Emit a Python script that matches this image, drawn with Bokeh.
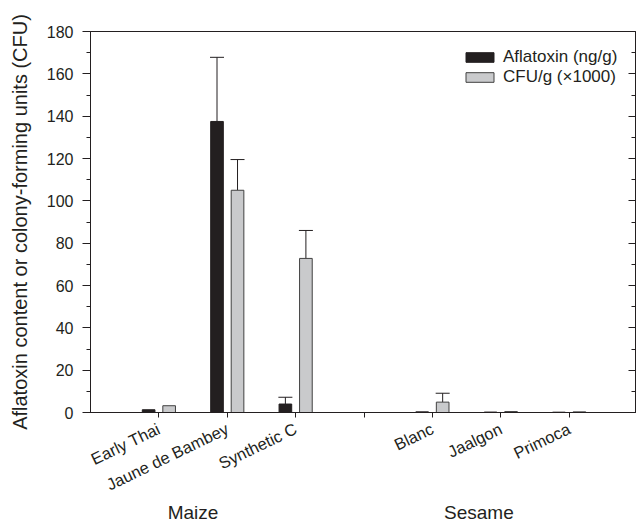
from bokeh.plotting import figure
from bokeh.models import (Range1d, LinearAxis, FixedTicker, SingleIntervalTicker,
                          ColumnDataSource, Whisker, TeeHead, Legend, LegendItem)
from bokeh.transform import dodge
from bokeh.embed import file_html
from bokeh.resources import INLINE

# ---- data ----
categories = ["Early Thai", "Jaune de Bambey", "Synthetic C", "", "Blanc", "Jaalgon", "Primoca"]
aflatoxin = [1.3, 137.5, 4.0, 0.0, 0.3, 0.2, 0.15]
aflatoxin_err = [0.0, 30.3, 3.2, 0.0, 0.0, 0.0, 0.0]
cfu = [3.2, 105.0, 72.8, 0.0, 4.9, 0.45, 0.3]
cfu_err = [0.0, 14.5, 13.2, 0.0, 4.2, 0.0, 0.0]
groups = ["Maize", "Sesame"]
group_pos = [1.5, 5.68]
series_names = ["Aflatoxin (ng/g)", "CFU/g (\u00d71000)"]

FONT = "Liberation Sans"
TXT = "#231f20"
BLACK = "#231f20"
GRAY = "#c9cacc"

xs = list(range(1, len(categories) + 1))
src = ColumnDataSource(dict(x=xs, afl=aflatoxin, cfu=cfu))

p = figure(width=636, height=524, output_backend="svg", toolbar_location=None,
           x_range=Range1d(0, 7.97), y_range=Range1d(0, 180),
           frame_width=545, frame_height=381,
           min_border_left=90, min_border_right=1, min_border_top=31, min_border_bottom=112,
           x_axis_type=None, y_axis_type=None)
p.grid.visible = False
p.background_fill_color = "white"
p.border_fill_color = "white"
p.outline_line_color = TXT
p.outline_line_width = 1

# bars
r1 = p.vbar(x=dodge("x", -0.15), top="afl", width=0.185, source=src,
            fill_color=BLACK, line_color=BLACK, line_width=1)
r2 = p.vbar(x=dodge("x", 0.15), top="cfu", width=0.185, source=src,
            fill_color=GRAY, line_color="#404040", line_width=1)

# error bars (upper only)
def err_source(vals, errs, off):
    ex, lo, up = [], [], []
    for xi, v, e in zip(xs, vals, errs):
        if e > 0:
            ex.append(xi + off); lo.append(v); up.append(v + e)
    return ColumnDataSource(dict(x=ex, lower=lo, upper=up))

for vals, errs, off in [(aflatoxin, aflatoxin_err, -0.15), (cfu, cfu_err, 0.15)]:
    w = Whisker(source=err_source(vals, errs, off), base="x", lower="lower", upper="upper",
                dimension="height", lower_head=None,
                upper_head=TeeHead(size=14, line_color=TXT, line_width=1),
                line_color=TXT, line_width=1)
    p.add_layout(w)

# y axis (left)
ya = LinearAxis(ticker=SingleIntervalTicker(interval=20, num_minor_ticks=2))
ya.axis_label = "Aflatoxin content or colony-forming units (CFU)"
ya.axis_label_text_font = FONT
ya.axis_label_text_font_style = "normal"
ya.axis_label_text_font_size = "20px"
ya.axis_label_text_color = TXT
ya.axis_label_standoff = 13
ya.major_label_text_font = FONT
ya.major_label_text_font_size = "16px"
ya.major_label_text_color = TXT
ya.major_label_standoff = 9
ya.major_tick_out = 8
ya.major_tick_in = 0
ya.minor_tick_out = 4
ya.minor_tick_in = 0
ya.axis_line_color = TXT
ya.major_tick_line_color = TXT
ya.minor_tick_line_color = TXT
p.add_layout(ya, "left")

# right axis (inward ticks, no labels)
ra = LinearAxis(ticker=SingleIntervalTicker(interval=20, num_minor_ticks=2))
ra.major_label_overrides = {v: "" for v in range(0, 181, 20)}
ra.major_label_standoff = 0
ra.major_label_text_font_size = "1px"
ra.major_tick_in = 7
ra.major_tick_out = 0
ra.minor_tick_in = 4
ra.minor_tick_out = 0
ra.axis_line_color = None
ra.major_tick_line_color = TXT
ra.minor_tick_line_color = TXT
p.add_layout(ra, "right")

# x axis (categories)
xa = LinearAxis(ticker=FixedTicker(ticks=xs, minor_ticks=[]))
xa.major_label_overrides = {xi: c for xi, c in zip(xs, categories)}
xa.major_label_orientation = 0.45
xa.major_label_text_font = FONT
xa.major_label_text_font_size = "16.5px"
xa.major_label_text_color = TXT
xa.major_label_standoff = 10
xa.major_tick_out = 5
xa.major_tick_in = 0
xa.axis_line_color = TXT
xa.major_tick_line_color = TXT
p.add_layout(xa, "below")

# group axis (Maize / Sesame)
ga = LinearAxis(ticker=FixedTicker(ticks=group_pos, minor_ticks=[]))
ga.major_label_overrides = {gx: g for gx, g in zip(group_pos, groups)}
ga.major_label_text_font = FONT
ga.major_label_text_font_size = "19px"
ga.major_label_text_color = TXT
ga.major_label_standoff = -3
ga.major_tick_out = 0
ga.major_tick_in = 0
ga.axis_line_color = None
ga.major_tick_line_color = None
p.add_layout(ga, "below")

legend = Legend(items=[LegendItem(label=series_names[0], renderers=[r1]),
                       LegendItem(label=series_names[1], renderers=[r2])],
                location=(372, 325))
legend.glyph_width = 35
legend.glyph_height = 12
legend.label_height = 12
legend.spacing = 0
legend.padding = 0
legend.margin = 0
legend.label_standoff = 6
legend.border_line_color = None
legend.background_fill_alpha = 0
legend.label_text_font = FONT
legend.label_text_font_size = "17px"
legend.label_text_color = TXT
p.add_layout(legend)

open("out.html", "w").write(file_html(p, INLINE))
